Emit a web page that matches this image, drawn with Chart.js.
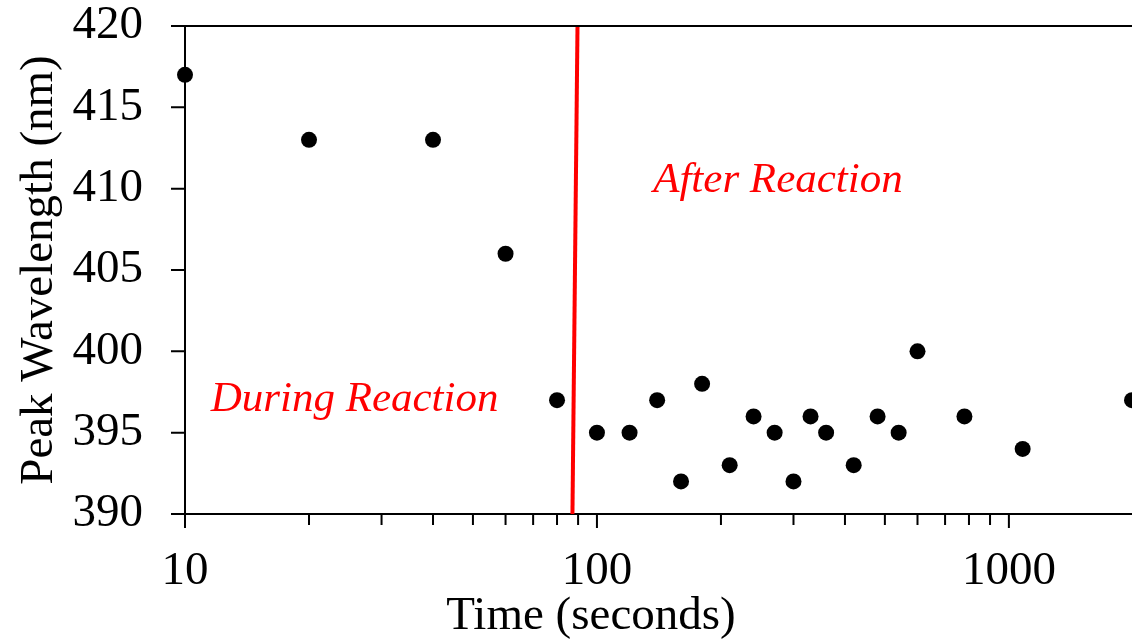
<!DOCTYPE html>
<html><head><meta charset="utf-8">
<script src="https://cdn.jsdelivr.net/npm/chart.js@4/dist/chart.umd.min.js"></script>
<style>html,body{margin:0;padding:0;background:#fff;overflow:hidden}#wrap{width:1132px;height:642px;position:relative}</style>
</head><body><div id="wrap"><canvas id="c"></canvas></div>
<script>
const timeSeconds = [10,20,40,60,80,100,120,140,160,180,210,240,270,300,330,360,420,480,540,600,780,1080,1990];
const peakWavelength = [417,413,413,406,397,395,395,397,392,398,393,396,395,392,396,395,393,396,395,400,396,394,397];
const reactionLineTime = [87.2, 89.7];
const reactionLineWavelength = [390, 420];
const yTicks = [390,395,400,405,410,415,420];
const xMajorTicks = [10,100,1000];
const xMinorTicks = [20,30,40,50,60,70,80,90,200,300,400,500,600,700,800,900];
const annotationTexts = ['During Reaction','After Reaction'];
const annotationTimes = [25.8, 275];
const annotationWavelengths = [397.0, 410.5];
const xAxisTitle = 'Time (seconds)';
const yAxisTitle = 'Peak Wavelength (nm)';

const FONT = '"Liberation Serif", "Times New Roman", serif';

const frame = {
  id: 'frame',
  afterDraw(chart) {
    const {ctx, chartArea: a, scales: {x, y}} = chart;
    ctx.save();
    ctx.strokeStyle = '#000';
    ctx.lineWidth = 2;
    ctx.beginPath();
    ctx.moveTo(a.left, a.top); ctx.lineTo(a.right, a.top);
    yTicks.forEach(v => { const p = y.getPixelForValue(v); ctx.moveTo(a.left - 14, p); ctx.lineTo(a.left, p); });
    xMajorTicks.forEach(v => { const p = x.getPixelForValue(v); ctx.moveTo(p, a.bottom); ctx.lineTo(p, a.bottom + 14); });
    xMinorTicks.forEach(v => { const p = x.getPixelForValue(v); ctx.moveTo(p, a.bottom); ctx.lineTo(p, a.bottom + 11); });
    ctx.stroke();
    ctx.fillStyle = '#ff0000';
    ctx.font = 'italic 43px ' + FONT;
    ctx.textAlign = 'center';
    ctx.textBaseline = 'middle';
    annotationTexts.forEach((t, i) => {
      ctx.fillText(t, x.getPixelForValue(annotationTimes[i]), y.getPixelForValue(annotationWavelengths[i]));
    });
    // x axis title (offset left of plot centre, as in the original)
    ctx.fillStyle = '#000';
    ctx.font = '47px ' + FONT;
    ctx.fillText(xAxisTitle, 591, 617);
    ctx.restore();
  }
};

new Chart(document.getElementById('c'), {
  type: 'scatter',
  data: {
    datasets: [
      {
        data: timeSeconds.map((t, i) => ({x: t, y: peakWavelength[i]})),
        pointRadius: 8, pointHoverRadius: 8,
        backgroundColor: '#000', borderWidth: 0, showLine: false, clip: false
      },
      {
        data: reactionLineTime.map((t, i) => ({x: t, y: reactionLineWavelength[i]})),
        showLine: true, borderColor: '#ff0000', borderWidth: 4, pointRadius: 0, fill: false
      }
    ]
  },
  options: {
    responsive: true, maintainAspectRatio: false, animation: false,
    devicePixelRatio: 1,
    layout: {autoPadding: false, padding: {top: 26, right: 0, left: 0, bottom: 0}},
    plugins: {legend: {display: false}, tooltip: {enabled: false}},
    scales: {
      x: {
        type: 'logarithmic', min: 10, max: 1990,
        afterBuildTicks(s) { s.ticks = xMajorTicks.concat(xMinorTicks).sort((a,b)=>a-b).map(v => ({value: v, major: xMajorTicks.includes(v)})); },
        afterFit(s) { s.height = 128; s.paddingLeft = 0; s.paddingRight = 0; },
        grid: {display: false},
        border: {display: true, color: '#000', width: 2},
        ticks: {
          autoSkip: false, maxRotation: 0, padding: 21, color: '#000',
          font: {family: FONT, size: 47},
          callback: v => xMajorTicks.includes(v) ? String(v) : ''
        },
        title: {display: false, text: xAxisTitle}
      },
      y: {
        min: 390, max: 420,
        afterBuildTicks(s) { s.ticks = yTicks.map(v => ({value: v})); },
        afterFit(s) { s.width = 185; s.paddingTop = 0; s.paddingBottom = 0; },
        grid: {display: false},
        border: {display: true, color: '#000', width: 2},
        ticks: {padding: 34, color: '#000', font: {family: FONT, size: 47}},
        title: {display: true, text: yAxisTitle, color: '#000', font: {family: FONT, size: 47, lineHeight: 1.1}, padding: {top: 14, bottom: 0}}
      }
    }
  },
  plugins: [frame]
});
</script></body></html>
